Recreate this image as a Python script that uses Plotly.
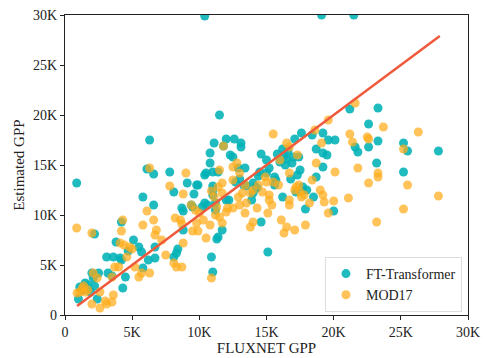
import plotly.graph_objects as go

# FT-Transformer points (FLUXNET GPP, Estimated GPP), in thousands
ft_x = [10.4, 19.1, 21.5, 0.87, 6.3, 11.5, 21.2, 22.6, 23.3, 17.6, 18.4, 19.2, 17.1, 19.6, 20.1,
        11.1, 12.0, 12.6, 13.1, 13.1, 22.6, 23.3, 21.6, 21.8, 25.2, 25.5, 27.8, 25.2, 23.2, 18.7,
        19.2, 19.5, 19.2, 18.7, 18.5, 17.9, 20.0, 14.6, 15.0, 16.2, 16.6, 16.9, 16.4, 16.8, 15.1,
        14.6, 10.8, 10.8, 10.4, 10.5, 11.0, 11.4, 12.3, 12.5, 12.9, 13.4, 7.8, 6.6, 6.1, 5.8,
        6.6, 8.1, 9.1, 9.8, 9.6, 9.9, 8.7, 8.8, 8.8, 9.5, 10.2, 10.4, 11.0, 11.0, 11.0, 11.2,
        11.2, 12.0, 11.7, 11.4, 11.3, 10.9, 11.0, 8.1, 8.3, 8.4, 6.7, 6.7, 6.2, 5.8, 5.1, 5.5,
        5.7, 4.7, 4.2, 3.8, 3.1, 3.6, 4.1, 4.2, 3.2, 2.5, 2.0, 4.5, 4.3, 3.5, 2.4, 1.0,
        1.1, 1.5, 1.7, 2.2, 2.1, 2.2, 16.2, 14.0, 14.3, 14.0, 13.9, 15.0, 15.2, 15.7, 14.5,
        14.4, 15.6, 15.6, 11.8, 17.3, 17.0, 17.5, 16.5, 16.0, 17.2, 17.7, 13.0, 13.5, 12.2,
        9.4, 10.6, 1.3, 1.9, 12.7, 13.3, 14.2, 15.8, 16.3, 17.4, 18.0]
ft_y = [29.9, 30.0, 30.0, 13.2, 17.5, 20.0, 20.6, 19.1, 20.7, 18.2, 18.0, 18.2, 17.6, 17.5, 17.5,
        17.2, 17.6, 17.6, 17.2, 16.8, 16.8, 17.4, 16.8, 16.3, 17.2, 16.4, 16.4, 14.3, 15.2, 16.6,
        16.2, 16.0, 14.8, 13.8, 11.8, 10.6, 10.4, 16.1, 15.5, 16.6, 16.4, 15.2, 15.0, 13.6, 6.3,
        9.3, 16.2, 15.2, 14.0, 14.2, 14.3, 14.3, 16.0, 15.8, 14.7, 14.7, 14.3, 14.1, 14.6, 11.8,
        11.0, 12.3, 13.2, 13.0, 12.1, 13.0, 10.7, 10.4, 8.5, 10.8, 10.8, 11.2, 12.9, 12.5, 12.0, 11.2,
        10.5, 11.5, 8.5, 7.8, 7.6, 5.8, 4.3, 5.8, 6.2, 6.6, 6.8, 5.7, 5.5, 4.7, 7.5, 6.8,
        6.3, 6.4, 9.3, 7.3, 5.8, 5.8, 5.7, 5.5, 4.2, 4.2, 4.2, 3.8, 2.7, 3.9, 1.6, 1.6,
        2.8, 3.2, 3.0, 2.9, 3.7, 8.1, 11.8, 13.2, 12.7, 12.2, 11.5, 14.2, 14.7, 13.5, 14.3,
        13.9, 13.8, 13.0, 16.9, 14.0, 15.8, 14.5, 15.6, 15.3, 12.3, 12.8, 13.6, 12.9, 11.5,
        11.0, 11.0, 2.5, 2.3, 13.3, 13.0, 12.8, 16.1, 15.9, 15.8, 12.5]

# MOD17 points (FLUXNET GPP, Estimated GPP), in thousands
mod_x = [0.87, 2.0, 21.6, 19.6, 18.6, 15.5, 23.7, 26.3, 21.2, 21.4, 22.6, 25.2, 27.8, 25.5, 25.2,
         23.2, 23.3, 23.3, 22.6, 21.8, 20.1, 20.0, 19.6, 19.2, 19.3, 18.7, 19.1, 17.9, 17.1, 16.5,
         16.3, 16.1, 16.7, 16.7, 15.2, 15.4, 15.1, 14.3, 14.0, 13.8, 13.0, 13.5, 13.4, 12.5, 12.0,
         11.5, 11.2, 11.7, 10.8, 10.5, 10.9, 10.0, 10.3, 9.8, 9.5, 9.9, 9.0, 8.8, 7.8, 8.2,
         8.6, 8.7, 8.8, 8.1, 8.7, 8.3, 6.6, 6.8, 6.7, 5.8, 6.1, 6.3, 6.3, 5.7, 5.5, 5.2,
         4.8, 4.6, 4.3, 4.2, 4.1, 4.0, 3.7, 3.5, 3.6, 3.5, 3.1, 2.6, 2.0, 2.4, 2.1, 1.5,
         1.1, 0.9, 1.7, 1.4, 2.6, 12.5, 12.8, 13.0, 13.4, 12.5, 11.7, 11.4, 11.7, 11.5, 11.8,
         13.8, 14.0, 14.4, 15.0, 14.7, 15.2, 15.5, 15.9, 16.7, 17.2, 17.5, 17.8, 17.4, 17.1, 17.6,
         16.5, 16.7, 19.0, 18.2, 21.1, 12.9, 13.2, 9.4, 9.7, 7.2, 7.5, 4.4, 5.0, 3.0, 1.3,
         10.9, 11.1, 11.3, 12.1, 14.9, 16.0, 17.3, 18.4, 22.5]
mod_y = [8.7, 8.2, 21.2, 19.5, 18.5, 18.1, 18.8, 18.3, 18.1, 17.3, 17.6, 16.6, 11.9, 13.0, 10.6,
         9.3, 14.2, 13.8, 13.2, 14.7, 14.3, 11.4, 10.2, 12.0, 11.3, 15.2, 17.2, 9.0, 8.5, 8.8,
         8.2, 9.5, 11.0, 11.5, 11.5, 11.0, 10.2, 10.7, 9.3, 8.8, 11.0, 11.2, 10.2, 10.7, 10.3,
         9.8, 10.0, 9.2, 9.0, 7.7, 3.7, 10.2, 9.5, 9.2, 8.4, 8.4, 14.2, 12.1, 12.9, 9.7,
         9.5, 9.1, 7.2, 5.2, 4.8, 4.8, 9.5, 8.5, 8.0, 9.0, 10.4, 14.7, 4.2, 4.2, 3.8, 4.8,
         6.8, 5.8, 9.5, 8.4, 7.2, 4.8, 4.8, 3.8, 2.0, 1.3, 1.1, 0.7, 1.1, 3.7, 4.2, 2.3,
         2.3, 2.2, 2.5, 2.9, 2.3, 14.8, 15.2, 14.2, 13.0, 13.5, 13.2, 12.8, 12.2, 14.5, 16.9,
         12.2, 12.5, 13.0, 13.3, 12.3, 12.0, 13.3, 13.0, 14.2, 12.8, 12.3, 12.0, 13.0, 12.5, 11.8,
         17.2, 16.8, 12.5, 11.2, 11.7, 11.8, 12.2, 11.0, 10.5, 7.5, 6.0, 7.0, 6.6, 1.4, 2.7,
         12.4, 11.8, 10.8, 10.7, 13.8, 15.5, 16.0, 13.5, 17.8]

# 1:1 reference line endpoints (thousands)
line_x = [0.9, 27.9]
line_y = [0.9, 27.9]

tick_vals = [0, 5, 10, 15, 20, 25, 30]
tick_text = ["0", "5K", "10K", "15K", "20K", "25K", "30K"]

SERIF = "Liberation Serif, Times New Roman, serif"
K = 1000
fig = go.Figure()
fig.add_trace(go.Scatter(
    x=[v * K for v in ft_x], y=[v * K for v in ft_y], mode="markers", name="FT-Transformer",
    marker=dict(size=9, color="rgba(0,178,182,0.88)", line=dict(width=0)),
))
fig.add_trace(go.Scatter(
    x=[v * K for v in mod_x], y=[v * K for v in mod_y], mode="markers", name="MOD17",
    marker=dict(size=9, color="rgba(255,172,25,0.72)", line=dict(width=0)),
))
fig.add_trace(go.Scatter(
    x=[v * K for v in line_x], y=[v * K for v in line_y], mode="lines", showlegend=False,
    line=dict(color="#f05a3c", width=2.5),
))

axis_common = dict(
    range=[0, 30000], tickvals=[v * K for v in tick_vals], ticktext=tick_text,
    showgrid=False, zeroline=False, showline=True, linecolor="#222", linewidth=1.2,
    mirror=True, ticks="outside", ticklen=4, tickcolor="#222", automargin=False,
    tickfont=dict(family=SERIF, size=14, color="#222"),
)
fig.update_layout(
    width=483, height=358,
    margin=dict(l=65, r=15, t=15, b=43),
    paper_bgcolor="white", plot_bgcolor="white",
    font=dict(family=SERIF, size=14, color="#222"),
    xaxis=dict(axis_common, title=dict(text="FLUXNET GPP", standoff=2,
                                         font=dict(family=SERIF, size=15))),
    yaxis=dict(axis_common, title=dict(text="Estimated GPP", standoff=4,
                                         font=dict(family=SERIF, size=15))),
    legend=dict(x=0.985, y=0.01, xanchor="right", yanchor="bottom",
                bordercolor="#dddddd", borderwidth=1, bgcolor="rgba(255,255,255,0.85)",
                font=dict(family=SERIF, size=14, color="#222"),
                itemsizing="trace", tracegroupgap=0),
    showlegend=True,
)
fig.write_html("out.html", config={"displayModeBar": False},
               post_script="document.body.style.margin='0';")
